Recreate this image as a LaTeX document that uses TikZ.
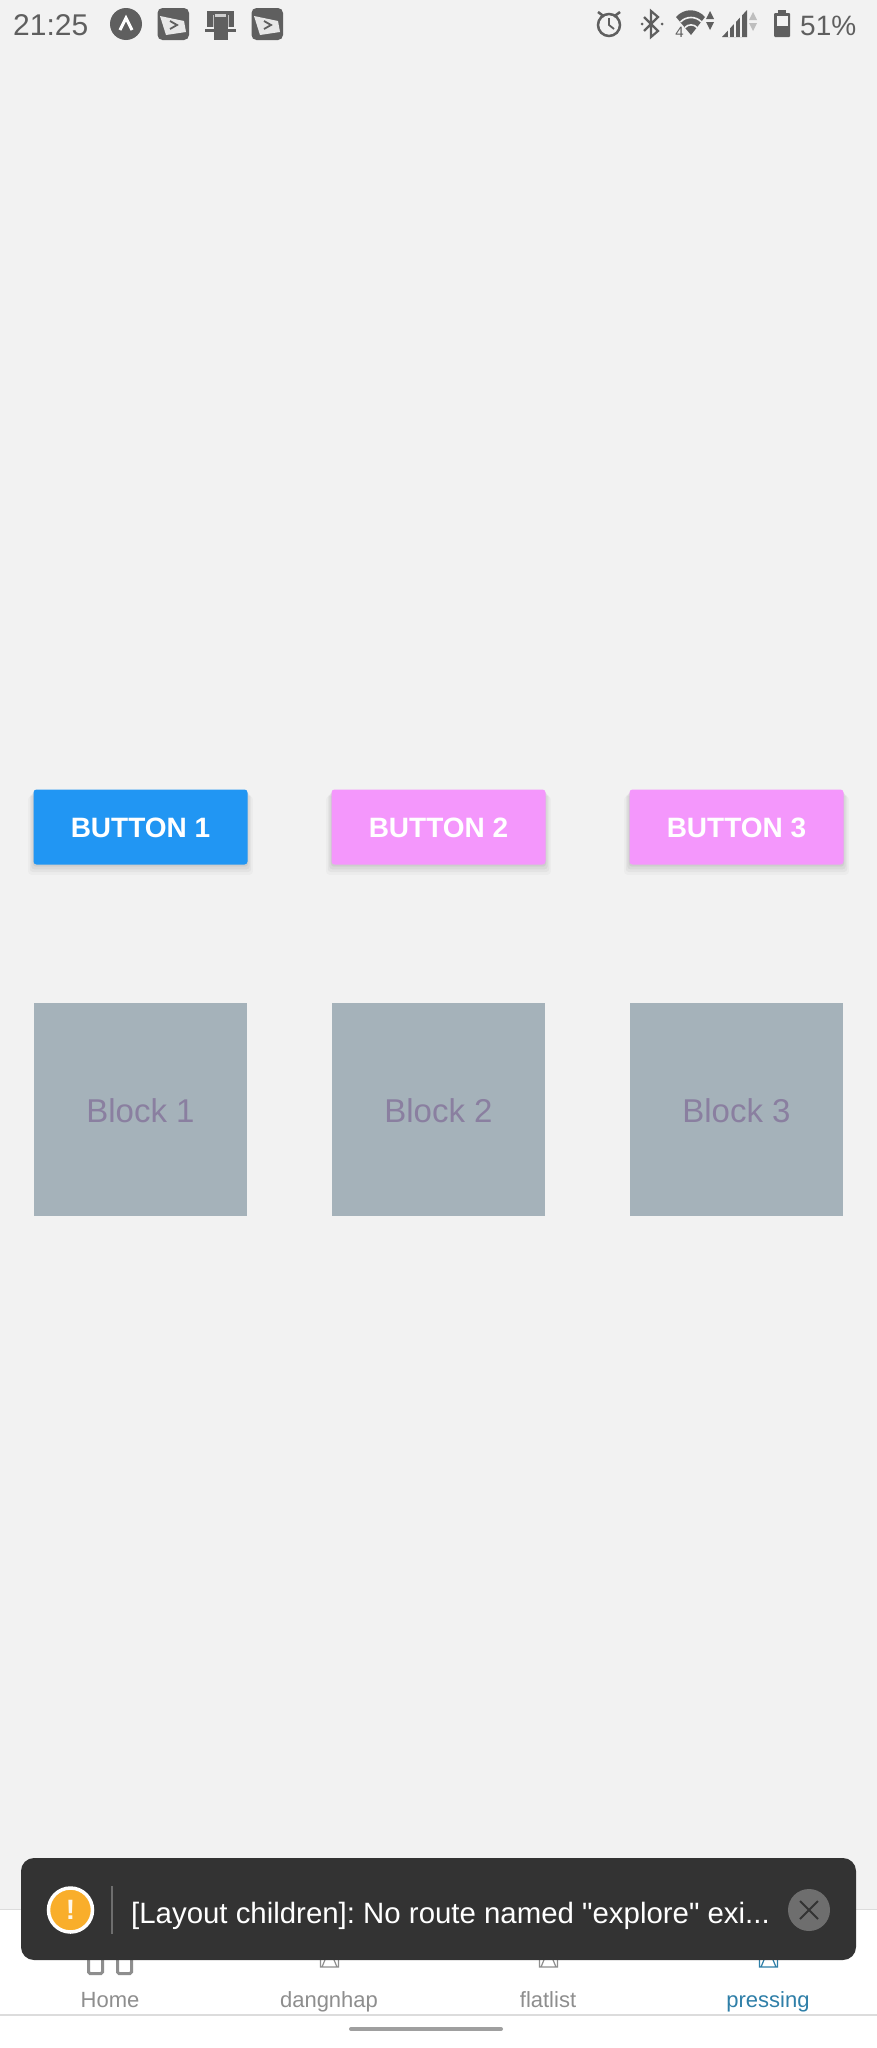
\documentclass[tikz,border=0pt]{standalone}
\usepackage{fontspec}
\setmainfont{Liberation Sans}
\newfontfamily\toastfont{Liberation Sans}
\usepackage{xcolor}
\usetikzlibrary{shadows}
\definecolor{screenbg}{HTML}{F2F2F2}
\definecolor{btnblue}{HTML}{2196F3}
\definecolor{btnpink}{HTML}{F497FC}
\definecolor{blockgray}{HTML}{A5B2BA}
\definecolor{blocktext}{HTML}{8A7FA0}
\definecolor{toastdark}{HTML}{333333}
\definecolor{toastorange}{HTML}{F9AE2B}
\definecolor{closegray}{HTML}{6E6E6E}
\definecolor{statusgray}{HTML}{5F5F5F}
\definecolor{tabgray}{HTML}{8E8E8E}
\definecolor{tabblue}{HTML}{2F7FA8}
\definecolor{tabline}{HTML}{DCDCDC}
\newcommand{\pxfont}[1]{\fontsize{#1}{#1}\selectfont}
\tikzset{
  btnbox/.style={rectangle, rounded corners=3pt, minimum width=214pt, minimum height=75pt, inner sep=0pt,
    text=white, font=\pxfont{28}\bfseries,
    drop shadow={shadow xshift=0pt, shadow yshift=-8pt, shadow scale=1.05, opacity=.025, fill=black},
    drop shadow={shadow xshift=0pt, shadow yshift=-6pt, shadow scale=1.035, opacity=.035, fill=black},
    drop shadow={shadow xshift=0pt, shadow yshift=-4pt, shadow scale=1.02, opacity=.045, fill=black},
    drop shadow={shadow xshift=0pt, shadow yshift=-2pt, shadow scale=1.005, opacity=.05, fill=black}},
  blockbox/.style={rectangle, fill=blockgray, minimum width=213pt, minimum height=213pt, inner sep=0pt,
    text=blocktext, font=\pxfont{33}},
  tablabel/.style={inner sep=0pt, anchor=base, text=tabgray, font=\pxfont{22}},
  tabicon/.style={draw=tabgray, line width=1.2pt},
  statusicon/.style={fill=statusgray, rounded corners=5pt}
}

\begin{document}
\begin{tikzpicture}[x=1pt, y=-1pt]
  \useasboundingbox (0,0) rectangle (877,2048);
  \fill[screenbg] (0,0) rectangle (877,2048);

  % status bar
  \node[inner sep=0pt, anchor=base west, text=statusgray, font=\pxfont{30}] (clock) at (13,35.5) {21:25};
  \node[circle, fill=statusgray, minimum size=32pt, inner sep=0pt] (expoicon) at (126,24) {};
  \draw[white, line width=3pt] (120,30) -- (126,18) -- (132,30);
  \fill[statusicon] (157.5,8) rectangle (189,40);
  \fill[white!85!statusgray] (160,16) -- (184,21) -- (186,32) -- (166,35) -- cycle;
  \draw[statusgray, line width=1.8pt] (170,21) -- (177,25) -- (170,29);
  \fill[statusgray] (207,11) rectangle (234,27);
  \fill[white!70!statusgray] (215,14) rectangle (226,17);
  \draw[statusgray, line width=3pt] (205,30) -- (236,30);
  \draw[white!60!statusgray, line width=.6pt] (213,15) -- (213,27) (228,15) -- (228,27);
  \fill[statusgray] (213.5,17) rectangle (227.5,40);
  \fill[statusicon] (251.5,8) rectangle (283,40);
  \fill[white!85!statusgray] (254,16) -- (278,21) -- (280,32) -- (260,35) -- cycle;
  \draw[statusgray, line width=1.8pt] (264,21) -- (271,25) -- (264,29);

  \draw[statusgray, line width=2.5pt] (609,25) circle (11);
  \draw[statusgray, line width=1.8pt] (609,18) -- (609,25) -- (614,29);
  \draw[statusgray, line width=2.5pt] (598,12) -- (604,16.5) (620,12) -- (614,16.5);
  \draw[statusgray, line width=2.2pt] (644,17) -- (658,31) -- (651,37) -- (651,11) -- (658,17) -- (644,31);
  \fill[statusgray] (642,24) circle (1.5) (662,24) circle (1.5);

  \fill[statusgray] (676,17) .. controls (684,8) and (697,8) .. (705,17) -- (691,35) -- cycle;
  \draw[screenbg, line width=1.6pt] (680.5,22) .. controls (686,16) and (696,16) .. (701.5,22);
  \draw[screenbg, line width=1.6pt] (685,27.5) .. controls (688,24) and (694,24) .. (697,27.5);
  \fill[statusgray] (706,19) -- (710,11) -- (714,19) -- cycle (706,22) -- (710,30) -- (714,22) -- cycle;
  \node[inner sep=0pt, anchor=base, text=statusgray, font=\pxfont{15}] (wifilte) at (679.5,37) {4};
  \fill[statusgray] (722,37) -- (747,10) -- (747,37) -- cycle;
  \draw[screenbg, line width=1.5pt] (729,25) -- (729,37) (735,20) -- (735,37) (741,12) -- (741,37);
  \fill[statusgray!35!screenbg] (749,20) -- (753,12) -- (757,20) -- cycle (749,23) -- (753,31) -- (757,23) -- cycle;
  \fill[statusgray, rounded corners=1pt] (774,13) rectangle (790,37);
  \fill[statusgray] (778,10) rectangle (786,14);
  \fill[screenbg] (776.5,16) rectangle (787.5,26);
  \node[inner sep=0pt, anchor=base west, text=statusgray, font=\pxfont{28}] (battery) at (800,35) {51\%};

  % buttons
  \node[btnbox, fill=btnblue] (button1) at (140.5,827) {\raisebox{-1pt}[\height][\depth]{BUTTON 1}};
  \node[btnbox, fill=btnpink] (button2) at (438.5,827) {\raisebox{-1pt}[\height][\depth]{BUTTON 2}};
  \node[btnbox, fill=btnpink] (button3) at (736.5,827) {\raisebox{-1pt}[\height][\depth]{BUTTON 3}};

  % blocks
  \node[blockbox] (block1) at (140.5,1109.5) {\raisebox{-1.5pt}[\height][\depth]{Block 1}};
  \node[blockbox] (block2) at (438.5,1109.5) {\raisebox{-1.5pt}[\height][\depth]{Block 2}};
  \node[blockbox] (block3) at (736.5,1109.5) {\raisebox{-1.5pt}[\height][\depth]{Block 3}};

  % tab bar
  \fill[white] (0,1909) rectangle (877,2048);
  \draw[tabline, line width=1pt] (0,1909) -- (877,1909);
  \draw[tabline, line width=1.2pt] (0,2015) -- (877,2015);
  \draw[tabgray, line width=3pt, rounded corners=1.5pt] (88.5,1950) rectangle (102.5,1973.5);
  \draw[tabgray, line width=3pt, rounded corners=1.5pt] (117.5,1950) rectangle (131.5,1973.5);
  \draw[tabicon] (320.5,1955) -- (320.5,1967) -- (338.5,1967) -- (338.5,1955) (322,1967) -- (327,1955) (337,1967) -- (332,1955);
  \draw[tabicon] (539.5,1955) -- (539.5,1967) -- (557.5,1967) -- (557.5,1955) (541,1967) -- (546,1955) (556,1967) -- (551,1955);
  \draw[tabicon, draw=tabblue] (759.5,1955) -- (759.5,1967) -- (777.5,1967) -- (777.5,1955) (761,1967) -- (766,1955) (776,1967) -- (771,1955);
  \node[tablabel] (hometab) at (110,2007) {Home};
  \node[tablabel] (logintab) at (329,2007) {dangnhap};
  \node[tablabel] (listtab) at (548,2007) {flatlist};
  \node[tablabel, text=tabblue] (presstab) at (768,2007) {pressing};
  \draw[tabgray!85!white, line width=4pt, line cap=round] (351,2029) -- (501,2029);

  % toast
  \fill[toastdark, rounded corners=13pt] (21,1858) rectangle (856,1960);
  \node[circle, fill=toastorange, draw=white, line width=3.5pt, minimum size=44pt, inner sep=0pt,
    text=white!90!toastorange, font=\pxfont{28}\bfseries] (warnicon) at (70.5,1910) {!};
  \draw[closegray, line width=1.5pt] (112,1886) -- (112,1934);
  \node[inner sep=0pt, anchor=base west, text=white, font=\pxfont{29.4}\toastfont\frenchspacing] (toastmsg) at (131,1923)
    {[Layout children]: No route named "explore" exi...};
  \node[circle, fill=closegray, minimum size=42pt, inner sep=0pt] (closebtn) at (809,1910) {};
  \draw[toastdark, line width=2pt] (800,1901) -- (818,1919) (818,1901) -- (800,1919);
\end{tikzpicture}
\end{document}
